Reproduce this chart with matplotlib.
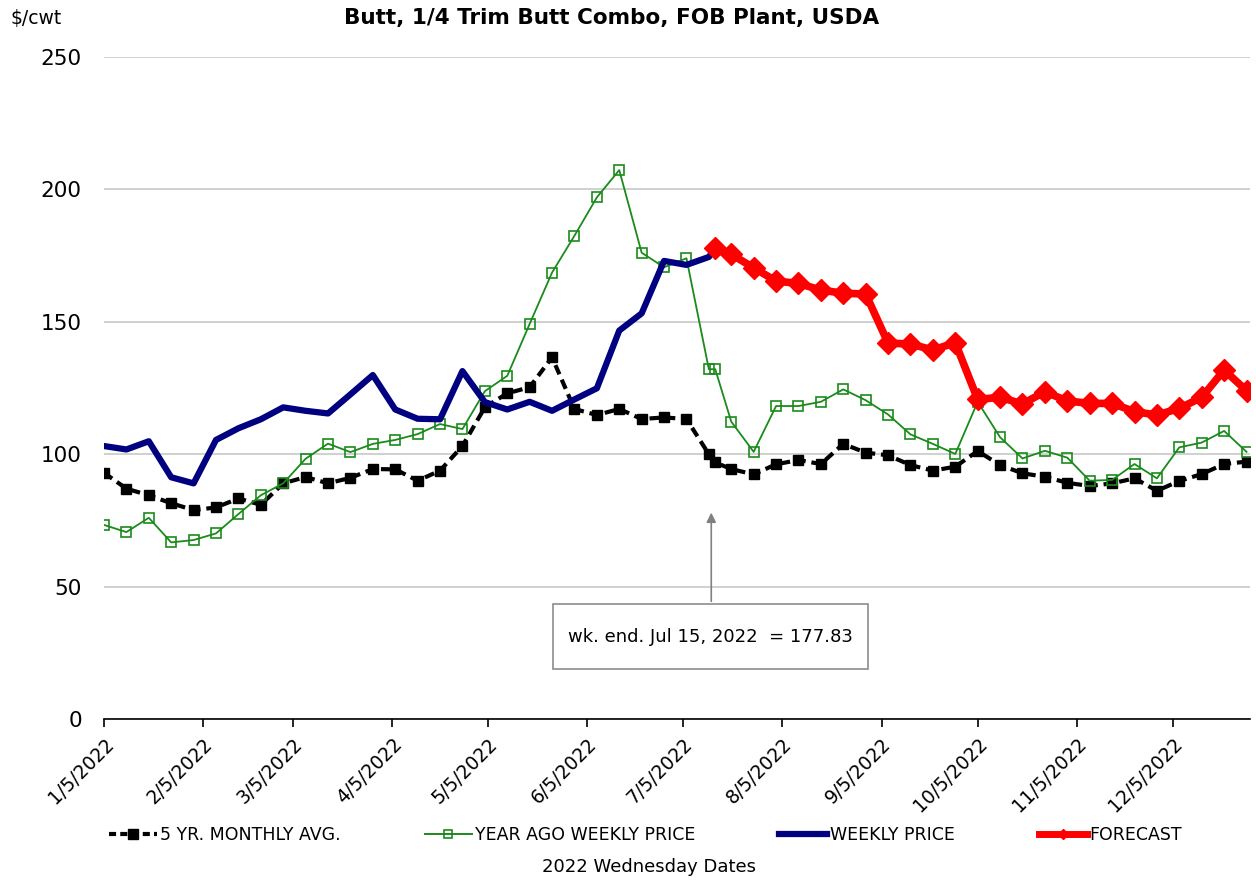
import numpy as np
import pandas as pd
import matplotlib
matplotlib.use('Agg')
import matplotlib.pyplot as plt
from matplotlib.patches import Rectangle
from matplotlib.lines import Line2D

plt.rcParams['font.family'] = ['DejaVu Sans']

# weekly Wednesday dates, plus the Friday Jul 15 point used for the forecast start
wednesdays = pd.date_range('2022-01-05', '2022-12-28', freq='7D')
all_dates = wednesdays[:28].append(pd.DatetimeIndex(['2022-07-15'])).append(wednesdays[28:])

avg_5yr = [93.0, 87.0, 84.5, 81.5, 78.9, 79.9, 83.3, 80.9, 89.0, 91.4, 89.0, 91.1, 94.4, 94.3,
           90.0, 93.8, 103.1, 117.7, 123.0, 125.3, 136.6, 117.1, 114.8, 117.1, 113.3, 113.9, 113.3, 100.0,
           96.9,
           94.4, 92.4, 96.2, 97.8, 96.3, 103.9, 100.6, 99.6,
           95.9, 93.8, 95.3, 101.2, 95.9, 92.8, 91.5, 89.2, 88.0, 89.0, 90.9, 86.2, 89.9, 92.5, 96.3, 97.2]

year_ago = [73.3, 70.6, 76.0, 66.7, 67.6, 70.1, 77.4, 84.5, 89.0, 98.3, 104.0, 100.8, 103.9, 105.4,
            107.6, 111.4, 109.5, 123.8, 129.6, 149.2, 168.6, 182.5, 197.0, 207.3, 176.1, 170.6, 174.0, 132.1,
            132.1,
            112.3, 100.9, 118.2, 118.2, 119.8, 124.5, 120.4, 115.0,
            107.5, 103.9, 100.1, 119.8, 106.4, 98.4, 101.3, 98.7, 90.0, 90.3, 96.3, 90.9, 102.6, 104.4, 108.8, 100.9]

weekly_price = [103.1, 101.8, 104.9, 91.3, 89.0, 105.4, 109.8, 113.2, 117.7, 116.4, 115.4, 122.6, 129.9,
                116.9, 113.4, 113.2, 131.4, 119.7, 116.9, 119.8, 116.4, 120.7, 124.9, 146.7, 153.2, 173.0,
                171.5, 174.5, 177.83]

forecast = [177.83, 175.5, 170.4, 165.4, 164.5, 162.0, 160.8, 160.5, 142.0, 141.6, 139.4, 142.1, 120.7,
            121.5, 119.0, 123.6, 120.1, 119.2, 119.2, 116.1, 114.8, 117.3, 121.5, 131.8, 124.0]

weekly_dates = all_dates[:29]
forecast_dates = all_dates[28:]

GREEN = '#1a8a1a'
NAVY = '#000080'
RED = '#ff0000'

fig = plt.figure(figsize=(12.56, 8.83), dpi=100)
ax = fig.add_axes([0.0828, 0.1857, 0.9122, 0.7497])

ax.plot(all_dates, avg_5yr, color='black', lw=3, ls=(0, (2.4, 1.4)), marker='s', ms=7.5,
        label='5 YR. MONTHLY AVG.', zorder=3)
ax.plot(all_dates, year_ago, color=GREEN, lw=1.3, marker='s', ms=7.5, mfc='none', mec=GREEN,
        mew=1.2, label='YEAR AGO WEEKLY PRICE', zorder=4)
ax.plot(weekly_dates, weekly_price, color=NAVY, lw=4.5, label='WEEKLY PRICE', zorder=5)
ax.plot(forecast_dates, forecast, color=RED, lw=5.5, marker='D', ms=11, mec=RED,
        label='FORECAST', zorder=6)

ax.set_ylim(0, 250)
ax.set_yticks(np.arange(0, 251, 50))
ax.set_xlim(pd.Timestamp('2022-01-05'), pd.Timestamp('2022-12-29'))
ax.grid(axis='y', color='#c8c8c8', lw=1.2)
ax.set_axisbelow(True)
for s in ['left', 'right', 'top']:
    ax.spines[s].set_visible(False)
ax.spines['bottom'].set_linewidth(1.2)

month_ticks = pd.date_range('2022-01-01', '2022-12-01', freq='MS') + pd.Timedelta(days=4)
ax.set_xticks(month_ticks)
ax.set_xticklabels([f'{d.month}/{d.day}/{d.year}' for d in month_ticks], rotation=45,
                   ha='right', rotation_mode='anchor', fontsize=13.5)
ax.tick_params(axis='x', length=6, width=1.2, pad=5)
ax.tick_params(axis='y', length=0, labelsize=15.5, pad=16)

fig.text(0.008, 0.979, '$/cwt', fontsize=13.5, ha='left', va='center')
fig.text(0.487, 0.980, 'Butt, 1/4 Trim Butt Combo, FOB Plant, USDA', fontsize=15.5,
         fontweight='bold', ha='center', va='center')
fig.text(0.517, 0.018, '2022 Wednesday Dates', fontsize=13, ha='center', va='center')

# annotation box with arrow
box_x0, box_y0, box_w, box_h = 0.392, 0.0755, 0.275, 0.098
ax.add_patch(Rectangle((box_x0, box_y0), box_w, box_h, transform=ax.transAxes,
                       facecolor='white', edgecolor='#8c8c8c', lw=1.2, zorder=7))
ax.text(box_x0 + box_w / 2, box_y0 + box_h / 2, 'wk. end. Jul 15, 2022  = 177.83', fontsize=13,
        ha='center', va='center', transform=ax.transAxes, zorder=8)
arrow_date = pd.Timestamp('2022-07-13 18:00')
ax.annotate('', xy=(arrow_date, 79), xytext=(arrow_date, 43.4),
            arrowprops=dict(arrowstyle='-|>', color='#808080', lw=1.2, mutation_scale=14), zorder=7)

handles = [
    Line2D([], [], color='black', lw=3, ls=(0, (1.7, 1.0)), marker='s', ms=7),
    Line2D([], [], color=GREEN, lw=1.4, marker='s', ms=6, mfc='none', mew=1.2),
    Line2D([], [], color=NAVY, lw=4.5),
    Line2D([], [], color=RED, lw=5, marker='D', ms=5),
]
labels = ['5 YR. MONTHLY AVG.', 'YEAR AGO WEEKLY PRICE', 'WEEKLY PRICE', 'FORECAST']
fig.legend(handles, labels, loc='center', bbox_to_anchor=(0.514, 0.054), ncol=4, frameon=False,
           fontsize=12.5, handlelength=2.75, handletextpad=0.15, columnspacing=4.85)

fig.savefig('out.png', dpi=100)
